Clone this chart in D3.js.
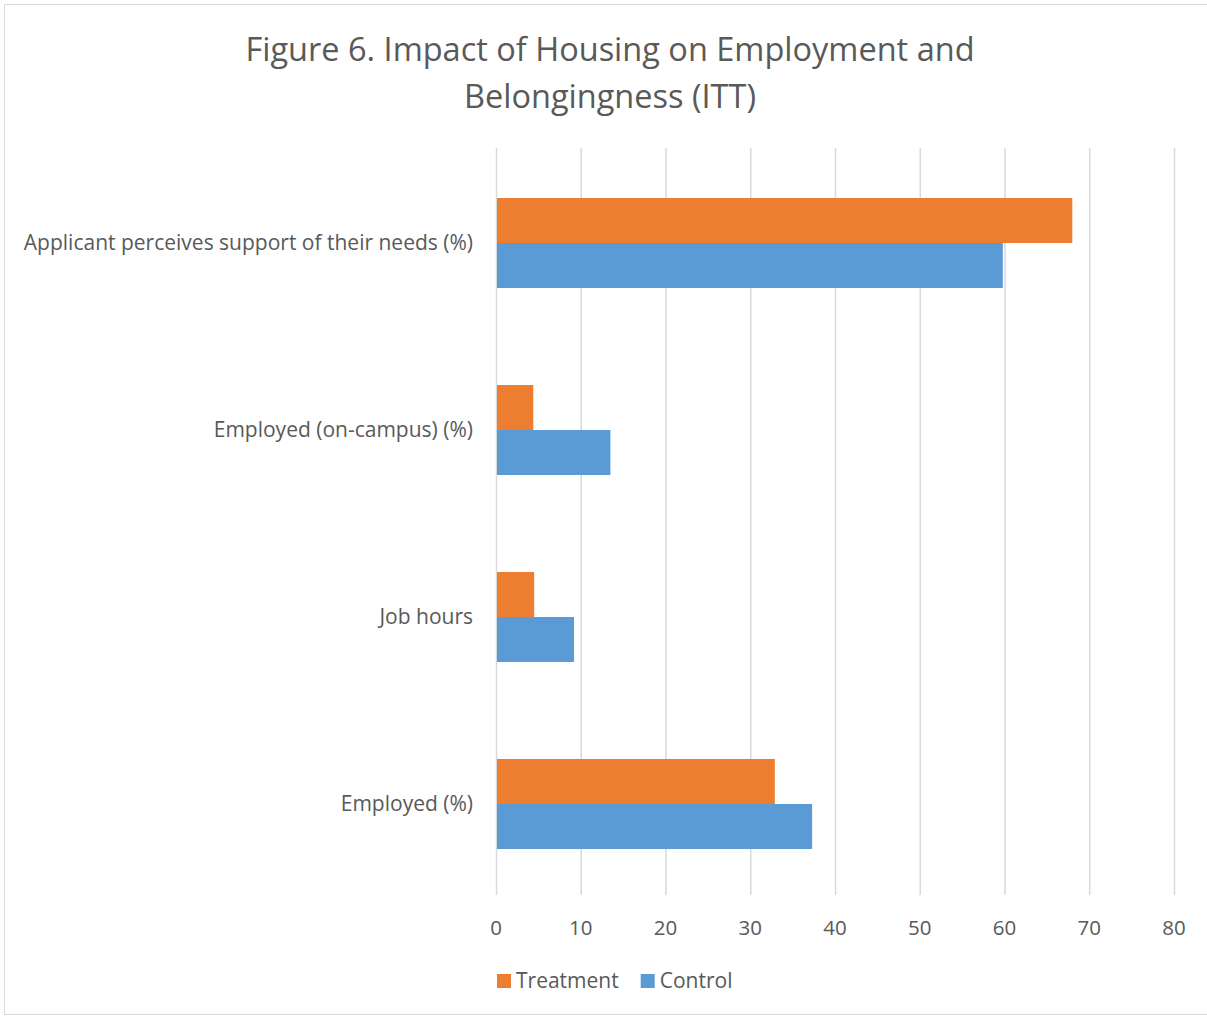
<!DOCTYPE html>
<html>
<head>
<meta charset="utf-8">
<script src="https://cdn.jsdelivr.net/npm/d3@7"></script>
<style>
  body { margin: 0; background: #fff; }
  svg text { font-family: "Open Sans", Lato, sans-serif; fill: #595959; }
</style>
</head>
<body>
<svg id="chart" width="1207" height="1017"></svg>
<script>
var categories = ["Applicant perceives support of their needs (%)", "Employed (on-campus) (%)", "Job hours", "Employed (%)"];
var seriesNames = ["Treatment", "Control"];
var treatment = [68.0, 4.4, 4.5, 32.9];
var control = [59.8, 13.5, 9.2, 37.3];
var xTicks = [0, 10, 20, 30, 40, 50, 60, 70, 80];
var titleLines = ["Figure 6. Impact of Housing on Employment and", "Belongingness (ITT)"];

var colors = { Treatment: "#ed7d31", Control: "#5b9bd5" };

var svg = d3.select("#chart");
var margin = {top: 148, left: 496, right: 33, bottom: 122};
var width = 1207 - margin.left - margin.right,
    height = 1017 - margin.top - margin.bottom;

// outer frame
svg.append("rect")
    .attr("x", 4.5).attr("y", 4.5)
    .attr("width", 1220).attr("height", 1010)
    .attr("fill", "none").attr("stroke", "#d9d9d9");

var title = svg.append("text")
    .attr("text-anchor", "middle")
    .attr("font-size", 32.5);
titleLines.forEach(function(t, i) {
    title.append("tspan").attr("x", 610).attr("y", 61 + i * 47).text(t);
});

var g = svg.append("g").attr("transform", "translate(" + margin.left + "," + margin.top + ")");

var xScale = d3.scaleLinear().domain([0, 80]).range([0, width]);
var yScale = d3.scaleBand().domain(categories).range([2, height + 2]).paddingInner(0.5187).paddingOuter(0.2567);
var sub = d3.scaleBand().domain(seriesNames).range([0, yScale.bandwidth()]);

// gridlines
g.selectAll("line.grid").data(xTicks).enter().append("line")
    .attr("class", "grid")
    .attr("x1", function(d) { return xScale(d) + 0.5; })
    .attr("x2", function(d) { return xScale(d) + 0.5; })
    .attr("y1", 0).attr("y2", height)
    .attr("stroke", "#d9d9d9").attr("stroke-width", 1.5);

var rows = [];
categories.forEach(function(c, i) {
    rows.push({cat: c, series: "Treatment", value: treatment[i]});
    rows.push({cat: c, series: "Control", value: control[i]});
});

g.selectAll("rect.bar").data(rows).enter().append("rect")
    .attr("class", "bar")
    .attr("x", xScale(0) + 1)
    .attr("y", function(d) { return yScale(d.cat) + sub(d.series); })
    .attr("width", function(d) { return xScale(d.value) - xScale(0) - 1; })
    .attr("height", sub.bandwidth())
    .attr("fill", function(d) { return colors[d.series]; });

// category labels
g.selectAll("text.cat").data(categories).enter().append("text")
    .attr("class", "cat")
    .attr("x", -23)
    .attr("y", function(d) { return yScale(d) + yScale.bandwidth() / 2; })
    .attr("dy", "0.35em")
    .attr("text-anchor", "end")
    .attr("font-size", 21)
    .text(function(d) { return d; });

// x tick labels
g.selectAll("text.tick").data(xTicks).enter().append("text")
    .attr("class", "tick")
    .attr("x", function(d) { return xScale(d); })
    .attr("y", height + 33)
    .attr("dy", "0.35em")
    .attr("text-anchor", "middle")
    .attr("font-size", 20.5)
    .text(function(d) { return d; });

// legend
var legend = svg.append("g").attr("transform", "translate(497,981)");
var lx = 0;
seriesNames.forEach(function(s) {
    var item = legend.append("g").attr("transform", "translate(" + lx + ",0)");
    item.append("rect").attr("x", 0).attr("y", -7).attr("width", 14).attr("height", 14)
        .attr("fill", colors[s]);
    var t = item.append("text").attr("x", 19).attr("y", 0).attr("dy", "0.35em")
        .attr("font-size", 21).text(s);
    lx += 19 + t.node().getComputedTextLength() + 22;
});
</script>
</body>
</html>
